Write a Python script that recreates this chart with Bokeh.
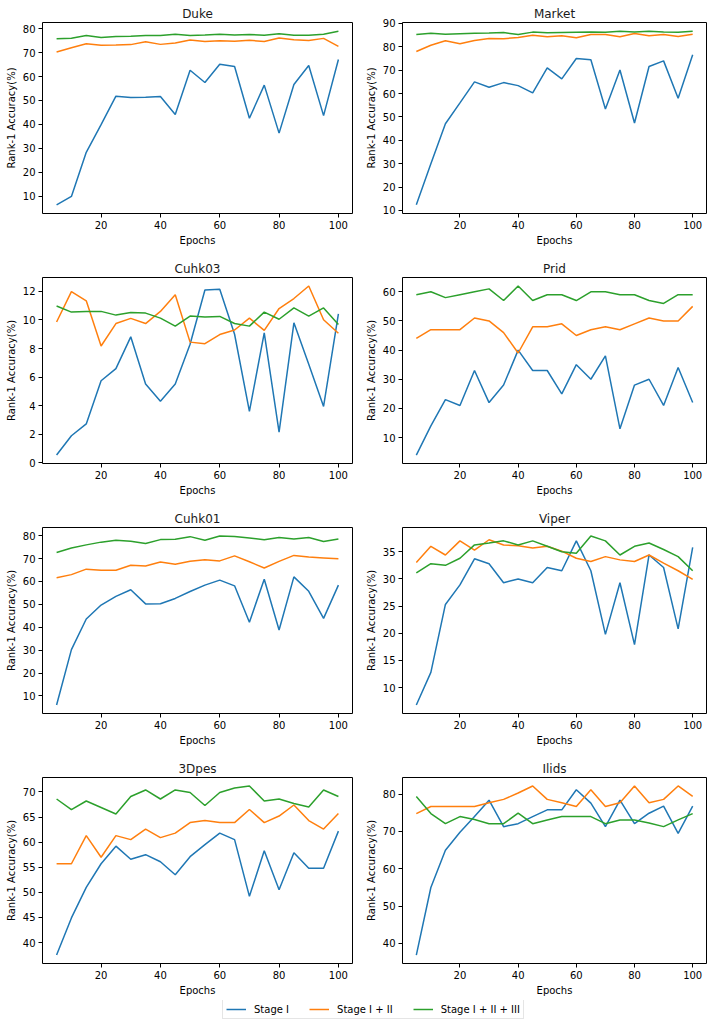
from bokeh.plotting import figure
from bokeh.layouts import column, row
from bokeh.models import Range1d, FixedTicker, Legend, LegendItem, Title
from bokeh.embed import file_html
from bokeh.resources import INLINE

epochs = [5, 10, 15, 20, 25, 30, 35, 40, 45, 50, 55, 60, 65, 70, 75, 80, 85, 90, 95, 100]
series_names = ["Stage I", "Stage I + II", "Stage I + II + III"]
colors = ["#1f77b4", "#ff7f0e", "#2ca02c"]
x_ticks = [20, 40, 60, 80, 100]

duke_s1 = [6.5, 10.0, 28.4, 39.9, 51.8, 51.2, 51.4, 51.7, 44.2, 62.6, 57.5, 65.1, 64.2, 42.6, 56.4, 36.4, 56.7, 64.6, 43.7, 67.1]
duke_s2 = [70.2, 72.0, 73.7, 73.0, 73.1, 73.3, 74.5, 73.4, 74.0, 75.2, 74.6, 74.9, 74.7, 75.1, 74.6, 76.1, 75.3, 75.0, 75.9, 72.6]
duke_s3 = [75.7, 76.0, 77.1, 76.3, 76.7, 76.8, 77.1, 77.1, 77.6, 77.1, 77.3, 77.6, 77.3, 77.5, 77.2, 77.8, 77.2, 77.2, 77.6, 78.9]
duke_ticks = [10, 20, 30, 40, 50, 60, 70, 80]

market_s1 = [12.4, 30.0, 47.1, 56.0, 65.0, 62.7, 64.7, 63.4, 60.3, 71.0, 66.3, 75.0, 74.5, 53.4, 70.1, 47.4, 71.6, 74.0, 58.0, 76.6]
market_s2 = [78.0, 80.7, 82.6, 81.3, 82.7, 83.6, 83.5, 84.0, 85.0, 84.3, 84.7, 83.9, 85.3, 85.3, 84.3, 85.7, 84.7, 85.3, 84.4, 85.4]
market_s3 = [85.3, 85.8, 85.4, 85.6, 85.8, 85.9, 86.1, 85.3, 86.3, 86.0, 86.1, 86.2, 86.3, 86.2, 86.7, 86.4, 86.7, 86.3, 86.2, 86.7]
market_ticks = [10, 20, 30, 40, 50, 60, 70, 80, 90]

cuhk03_s1 = [0.55, 1.9, 2.73, 5.75, 6.6, 8.82, 5.52, 4.32, 5.52, 8.3, 12.1, 12.15, 9.0, 3.6, 9.1, 2.16, 9.8, 6.9, 3.95, 10.43]
cuhk03_s2 = [9.86, 11.98, 11.34, 8.18, 9.75, 10.11, 9.75, 10.6, 11.77, 8.45, 8.34, 8.98, 9.3, 10.13, 9.27, 10.8, 11.5, 12.38, 10.02, 9.07]
cuhk03_s3 = [10.98, 10.55, 10.6, 10.6, 10.34, 10.52, 10.48, 10.13, 9.57, 10.27, 10.2, 10.25, 9.75, 9.57, 10.55, 10.05, 10.84, 10.27, 10.84, 9.68]
cuhk03_ticks = [0, 2, 4, 6, 8, 10, 12]

prid_s1 = [4, 14, 23, 21, 33, 22, 28, 40, 33, 33, 25, 35, 30, 38, 13, 28, 30, 21, 34, 22]
prid_s2 = [44, 47, 47, 47, 51, 50, 46, 39, 48, 48, 49, 45, 47, 48, 47, 49, 51, 50, 50, 55]
prid_s3 = [59, 60, 58, 59, 60, 61, 57, 62, 57, 59, 59, 57, 60, 60, 59, 59, 57, 56, 59, 59]
prid_ticks = [10, 20, 30, 40, 50, 60]

cuhk01_s1 = [6.0, 30.2, 43.6, 49.7, 53.5, 56.4, 50.2, 50.3, 52.6, 55.6, 58.4, 60.6, 58.1, 42.2, 61.0, 38.8, 62.0, 55.7, 43.9, 58.4]
cuhk01_s2 = [61.6, 63.0, 65.4, 64.9, 64.9, 67.1, 66.8, 68.5, 67.5, 68.8, 69.5, 69.0, 71.2, 68.6, 65.9, 68.8, 71.4, 70.7, 70.3, 69.9]
cuhk01_s3 = [72.7, 74.6, 76.0, 77.2, 78.0, 77.6, 76.6, 78.3, 78.5, 79.6, 78.0, 79.9, 79.7, 79.0, 78.2, 79.2, 78.6, 79.2, 77.5, 78.6]
cuhk01_ticks = [10, 20, 30, 40, 50, 60, 70, 80]

viper_s1 = [6.8, 12.8, 25.3, 28.9, 33.7, 32.8, 29.3, 30.0, 29.3, 32.1, 31.5, 37.0, 31.5, 19.8, 29.3, 17.9, 34.4, 32.1, 20.8, 35.8]
viper_s2 = [33.0, 36.0, 34.4, 37.0, 35.3, 37.2, 36.25, 36.1, 35.7, 36.0, 35.1, 33.8, 33.2, 34.1, 33.5, 33.2, 34.4, 32.9, 31.5, 29.9]
viper_s3 = [31.1, 32.8, 32.5, 33.8, 36.25, 36.6, 37.0, 36.25, 37.0, 36.0, 35.0, 34.7, 37.9, 37.0, 34.4, 36.0, 36.6, 35.4, 34.1, 31.5]
viper_ticks = [10, 15, 20, 25, 30, 35]

dpes_s1 = [37.5, 44.9, 51.0, 55.7, 59.2, 56.6, 57.5, 56.1, 53.5, 57.1, 59.5, 61.8, 60.5, 49.2, 58.3, 50.5, 57.9, 54.8, 54.8, 62.2]
dpes_s2 = [55.7, 55.7, 61.3, 57.0, 61.3, 60.5, 62.6, 60.9, 61.8, 63.9, 64.3, 63.9, 63.9, 66.5, 63.9, 65.2, 67.4, 64.3, 62.6, 65.7]
dpes_s3 = [68.6, 66.5, 68.2, 66.9, 65.6, 69.1, 70.4, 68.6, 70.4, 69.9, 67.3, 69.9, 70.8, 71.2, 68.2, 68.6, 67.7, 67.0, 70.4, 69.1]
dpes_ticks = [40, 45, 50, 55, 60, 65, 70]

ilids_s1 = [36.9, 55.0, 65.0, 69.8, 74.0, 78.4, 71.3, 72.1, 74.0, 75.8, 75.8, 81.2, 77.6, 71.3, 78.4, 72.1, 74.9, 76.8, 69.5, 76.8]
ilids_s2 = [74.8, 76.7, 76.7, 76.7, 76.7, 77.7, 78.6, 80.3, 82.2, 78.6, 77.7, 76.7, 81.2, 76.7, 77.7, 82.2, 77.7, 78.6, 82.2, 79.4]
ilids_s3 = [79.4, 74.8, 72.1, 74.0, 73.2, 72.1, 72.1, 74.9, 72.1, 73.1, 74.0, 74.0, 74.0, 72.1, 73.1, 73.1, 72.3, 71.3, 73.1, 74.8]
ilids_ticks = [40, 50, 60, 70, 80]

panels = [
    ("Duke", [duke_s1, duke_s2, duke_s3], duke_ticks),
    ("Market", [market_s1, market_s2, market_s3], market_ticks),
    ("Cuhk03", [cuhk03_s1, cuhk03_s2, cuhk03_s3], cuhk03_ticks),
    ("Prid", [prid_s1, prid_s2, prid_s3], prid_ticks),
    ("Cuhk01", [cuhk01_s1, cuhk01_s2, cuhk01_s3], cuhk01_ticks),
    ("Viper", [viper_s1, viper_s2, viper_s3], viper_ticks),
    ("3Dpes", [dpes_s1, dpes_s2, dpes_s3], dpes_ticks),
    ("Ilids", [ilids_s1, ilids_s2, ilids_s3], ilids_ticks),
]

FONT = "DejaVu Sans"


def make_panel(title, series, yticks, col, rowi):
    allv = [v for s in series for v in s]
    lo, hi = min(allv), max(allv)
    pad = (hi - lo) * 0.05
    xlo, xhi = min(epochs), max(epochs)
    xpad = (xhi - xlo) * 0.05
    top = 22 if rowi == 0 else 14
    bottom = 37 if rowi == 3 else 45
    left = 42 if col == 0 else 34
    right = 10 if col == 0 else 6
    t = Title(text=title, align="center", text_font=FONT, text_font_size="12px",
              text_font_style="normal", text_color="#1a1a1a", standoff=3)
    p = figure(width=left + 310 + right, height=top + 191 + bottom, title=t,
               output_backend="svg", toolbar_location=None,
               x_range=Range1d(xlo - xpad, xhi + xpad), y_range=Range1d(lo - pad, hi + pad),
               min_border_left=left, min_border_right=right,
               min_border_top=top, min_border_bottom=bottom)
    p.xgrid.visible = False
    p.ygrid.visible = False
    p.outline_line_color = "#000000"
    p.outline_line_width = 1
    p.outline_line_alpha = 1
    for s, c in zip(series, colors):
        p.line(epochs, s, line_color=c, line_width=1.5)
    p.xaxis.ticker = FixedTicker(ticks=x_ticks)
    p.yaxis.ticker = FixedTicker(ticks=yticks)
    p.xaxis.axis_label = "Epochs"
    p.yaxis.axis_label = "Rank-1 Accuracy(%)"
    for ax in (p.xaxis, p.yaxis):
        ax.axis_line_color = None
        ax.major_tick_in = 0
        ax.major_tick_out = 4
        ax.major_tick_line_color = "#000000"
        ax.minor_tick_line_color = None
        ax.major_label_text_font = FONT
        ax.major_label_text_font_size = "10px"
        ax.major_label_text_color = "#000000"
        ax.major_label_standoff = 3
        ax.axis_label_text_font = FONT
        ax.axis_label_text_font_size = "10px"
        ax.axis_label_text_font_style = "normal"
        ax.axis_label_text_color = "#000000"
        ax.axis_label_standoff = 3
    return p


figs = []
for i, (t, s, yt) in enumerate(panels):
    figs.append(make_panel(t, s, yt, i % 2, i // 2))

rows = [row(figs[i], figs[i + 1], spacing=0) for i in range(0, 8, 2)]

# Legend strip: holds hidden copies of the first panel's series as legend proxies
leg = figure(width=712, height=26, output_backend="svg", toolbar_location=None,
             x_range=Range1d(0, 1), y_range=Range1d(0, 1),
             x_axis_location=None, y_axis_location=None, min_border=0)
leg.xgrid.visible = False
leg.ygrid.visible = False
leg.outline_line_color = None
items = []
for name, s, c in zip(series_names, panels[0][1], colors):
    r = leg.line(epochs, s, line_color=c, line_width=1.5, visible=False)
    items.append(LegendItem(label=name, renderers=[r]))
legend = Legend(items=items, orientation="horizontal", location=(222, 7), margin=0,
                padding=3, spacing=20, label_standoff=8, glyph_width=20, glyph_height=12,
                label_height=12, label_text_font=FONT, label_text_font_size="10px",
                label_text_color="#000000", border_line_color="#cccccc",
                border_line_width=1, background_fill_color="#ffffff", background_fill_alpha=1)
leg.add_layout(legend, "center")

layout = column(*rows, leg, spacing=0)

open("out.html", "w").write(file_html(layout, INLINE))
